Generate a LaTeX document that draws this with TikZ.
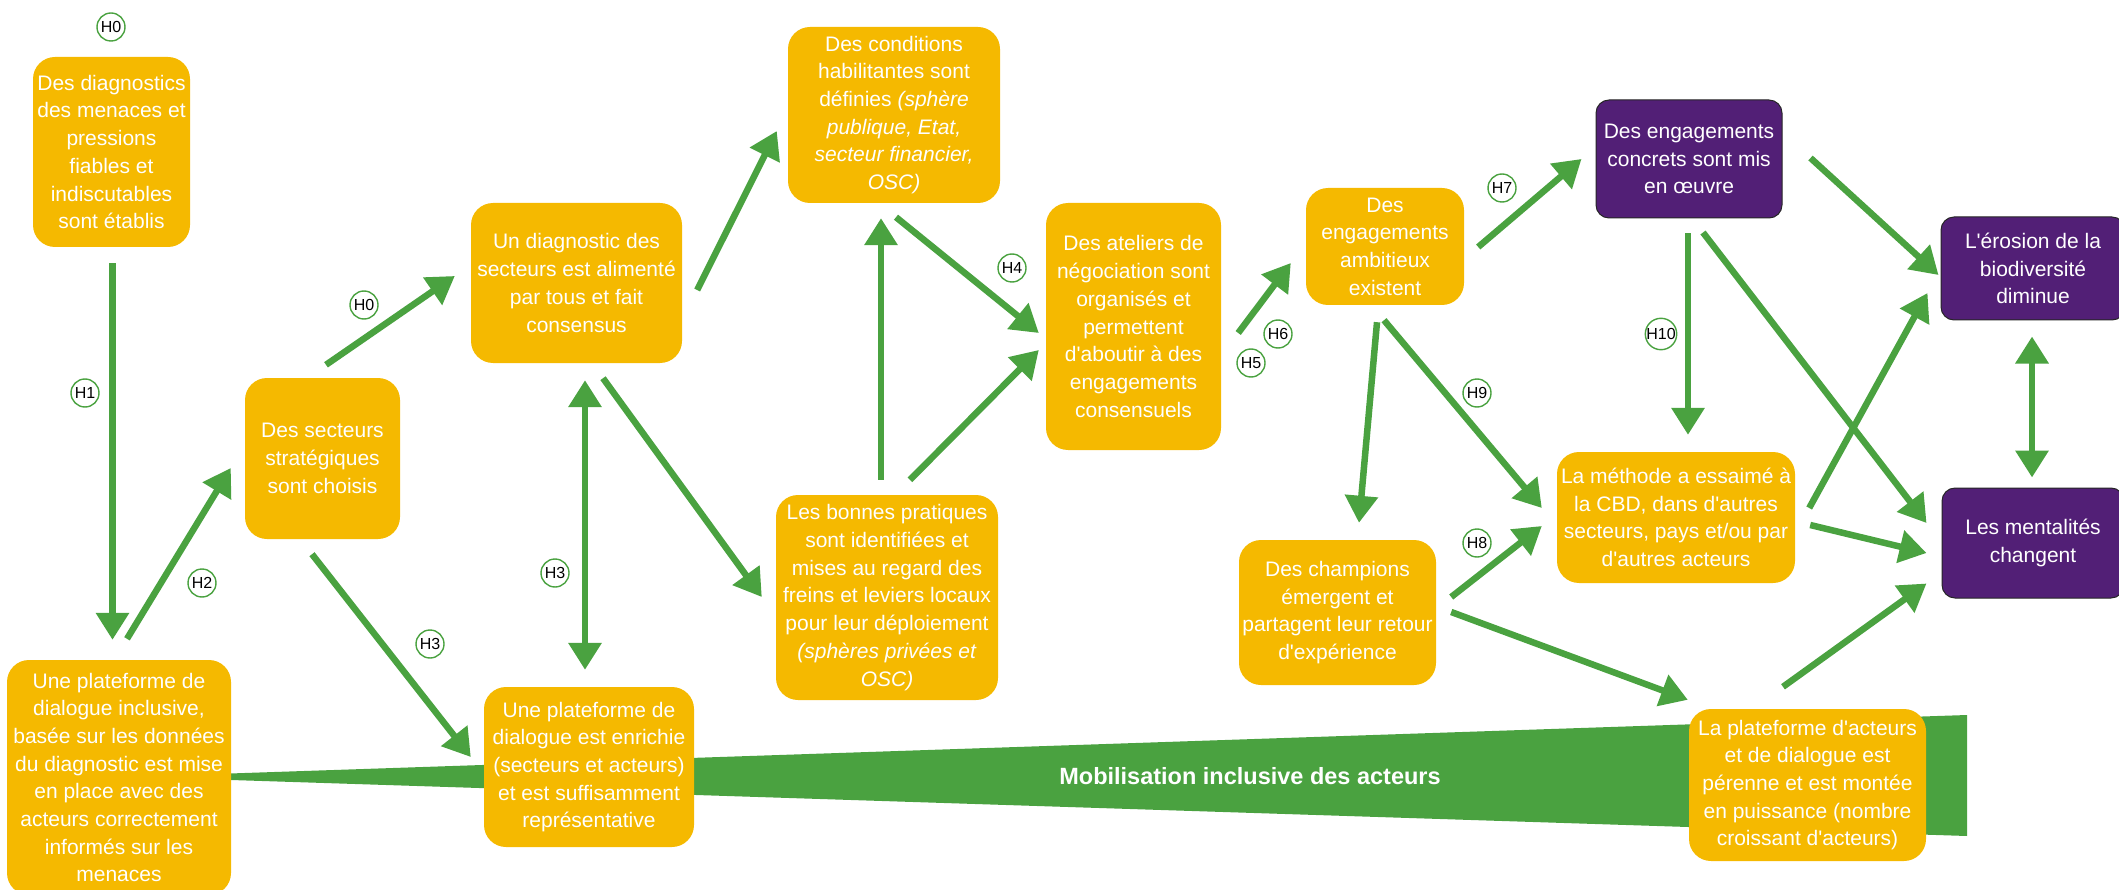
\documentclass[tikz,border=0pt]{standalone}
\usepackage{fontspec}
\setmainfont{Liberation Sans}
\usepackage{tikz}
\usetikzlibrary{arrows.meta, calc, backgrounds}
\definecolor{jauneb}{RGB}{245,185,0}
\definecolor{violetb}{RGB}{82,31,118}
\definecolor{vertb}{RGB}{74,162,64}
\newcommand{\ap}{\textquotesingle}
\tikzset{
  etape/.style  ={rounded corners=22pt, fill=jauneb, text=white, align=center, inner sep=3pt, font=\fontsize{21}{27.7}\selectfont},
  impact/.style ={rounded corners=13pt, fill=violetb, draw=black!85, line width=1pt, text=white, align=center, inner sep=3pt, font=\fontsize{21}{27.7}\selectfont},
  hyp/.style    ={circle, draw=vertb, fill=white, line width=1.4pt, minimum size=28pt, inner sep=0pt, font=\fontsize{16}{16}\selectfont, text=black},
  arr/.style    ={-{Triangle[length=27pt,width=32pt]}, line width=6.5pt, vertb},   % lien causal
  darr/.style   ={{Triangle[length=27pt,width=32pt]}-{Triangle[length=27pt,width=32pt]}, line width=6.5pt, vertb},
  mobil/.style  ={text=white, font=\bfseries\fontsize{23.5}{28}\selectfont},
}

\begin{document}
\begin{tikzpicture}[x=1pt, y=1pt]
  \useasboundingbox (0,0) rectangle (2119,-890);

  % bande de mobilisation
  \fill[vertb] (200,-774.5) -- (1967,-715) -- (1967,-836) -- (200,-779) -- cycle;
  \node[mobil] (mobtxt) at (1250,-776) {Mobilisation inclusive des acteurs};

  % etapes
  \node[etape, minimum width=157pt, minimum height=190pt] (diag) at (111.5,-152)
    {Des diagnostics\\ des menaces et\\ pressions\\ fiables et\\ indiscutables\\ sont établis};
  \node[etape, minimum width=211pt, minimum height=160pt] (diagsect) at (576.5,-283)
    {Un diagnostic des\\ secteurs est alimenté\\ par tous et fait\\ consensus};
  \node[etape, minimum width=155pt, minimum height=161pt] (secteurs) at (322.5,-458.5)
    {Des secteurs\\ stratégiques\\ sont choisis};
  \node[etape, minimum width=224pt, minimum height=235pt] (plateforme) at (119,-777.5)
    {Une plateforme de\\ dialogue inclusive,\\ basée sur les données\\ du diagnostic est mise\\ en place avec des\\ acteurs correctement\\ informés sur les\\ menaces};
  \node[etape, minimum width=210pt, minimum height=160pt] (enrichie) at (589,-767)
    {Une plateforme de\\ dialogue est enrichie\\ (secteurs et acteurs)\\ et est suffisamment\\ représentative};
  \node[etape, minimum width=212pt, minimum height=176pt] (conditions) at (894,-115)
    {Des conditions\\ habilitantes sont\\ définies \textit{(sphère}\\ \textit{publique, Etat,}\\ \textit{secteur financier,}\\ \textit{OSC)}};
  \node[etape, minimum width=175pt, minimum height=247pt] (ateliers) at (1133.5,-326.5)
    {Des ateliers de\\ négociation sont\\ organisés et\\ permettent\\ d\ap aboutir à des\\ engagements\\ consensuels};
  \node[etape, minimum width=222pt, minimum height=205pt] (pratiques) at (887,-597.5)
    {Les bonnes pratiques\\ sont identifiées et\\ mises au regard des\\ freins et leviers locaux\\ pour leur déploiement\\ \textit{(sphères privées et}\\ \textit{OSC)}};
  \node[etape, minimum width=158pt, minimum height=117pt] (ambitieux) at (1385,-246.5)
    {Des\\ engagements\\ ambitieux\\ existent};
  \node[etape, minimum width=197pt, minimum height=145pt] (champions) at (1337.5,-612.5)
    {Des champions\\ émergent et\\ partagent leur retour\\ d\ap expérience};
  \node[etape, minimum width=238pt, minimum height=131pt] (methode) at (1676,-517.5)
    {La méthode a essaimé à\\ la CBD, dans d\ap autres\\ secteurs, pays et/ou par\\ d\ap autres acteurs};
  \node[etape, minimum width=237pt, minimum height=152pt] (perenne) at (1807.5,-785)
    {La plateforme d\ap acteurs\\ et de dialogue est\\ pérenne et est montée\\ en puissance (nombre\\ croissant d\ap acteurs)};

  % impacts
  \node[impact, minimum width=186pt, minimum height=118pt] (concrets) at (1689,-159)
    {Des engagements\\ concrets sont mis\\ en œuvre};
  \node[impact, minimum width=184pt, minimum height=103pt] (erosion) at (2033,-268.5)
    {L\ap érosion de la\\ biodiversité\\ diminue};
  \node[impact, minimum width=182pt, minimum height=110pt] (mentalites) at (2033,-543)
    {Les mentalités\\ changent};

  % liens
  \draw[arr] ([shift={(1,-16)}]diag.south) -- ([shift={(-6.5,20)}]plateforme.north);
  \draw[arr] ([shift={(8,21)}]plateforme.north) -- ([shift={(-14,-9.5)}]secteurs.west);
  \draw[arr] ([shift={(3.5,13)}]secteurs.north) -- ([shift={(-16,7)}]diagsect.west);
  \draw[arr] ([shift={(-10.5,-15)}]secteurs.south) -- ([shift={(-13,10)}]enrichie.west);
  \draw[darr] ([shift={(8.5,-17)}]diagsect.south) -- ([shift={(-4,17)}]enrichie.north);
  \draw[arr] ([shift={(15,-7)}]diagsect.east) -- ([shift={(-11,-16)}]conditions.west);
  \draw[arr] ([shift={(26.5,-15)}]diagsect.south) -- ([shift={(-14,0.5)}]pratiques.west);
  \draw[arr] ([shift={(2,-14)}]conditions.south) -- ([shift={(-7,-6.5)}]ateliers.west);
  \draw[arr] ([shift={(-6,15)}]pratiques.north) -- ([shift={(-13,-15)}]conditions.south);
  \draw[arr] ([shift={(23,15)}]pratiques.north) -- ([shift={(-7,-23.5)}]ateliers.west);
  \draw[arr] ([shift={(17,-6.5)}]ateliers.east) -- ([shift={(-15,-16.5)}]ambitieux.west);
  \draw[arr] ([shift={(14,-0.5)}]ambitieux.east) -- ([shift={(-14,0)}]concrets.west);
  \draw[arr] ([shift={(-8,-17)}]ambitieux.south) -- ([shift={(21.5,17)}]champions.north);
  \draw[arr] ([shift={(-1,-15)}]ambitieux.south) -- ([shift={(-15,9.5)}]methode.west);
  \draw[arr] ([shift={(-1,-15)}]concrets.south) -- ([shift={(12,17)}]methode.north);
  \draw[arr] ([shift={(28,1)}]concrets.east) -- ([shift={(-2,-6.5)}]erosion.west);
  \draw[arr] ([shift={(14,-14)}]concrets.south) -- ([shift={(-15,20)}]mentalites.west);
  \draw[arr] ([shift={(14,9.5)}]methode.east) -- ([shift={(-13,-24.5)}]erosion.west);
  \draw[arr] ([shift={(15,-7.5)}]methode.east) -- ([shift={(-15,-10)}]mentalites.west);
  \draw[arr] ([shift={(15,15.5)}]champions.east) -- ([shift={(-15,-8.5)}]methode.west);
  \draw[arr] ([shift={(15,0.5)}]champions.east) -- ([shift={(-1,9)}]perenne.north west);
  \draw[arr] ([shift={(-24.5,22)}]perenne.north) -- ([shift={(-15,15)}]mentalites.south west);
  \draw[darr] ([shift={(-1,-16)}]erosion.south) -- ([shift={(-1,10)}]mentalites.north);

  % hypotheses
  \node[hyp] (h0a) at (111,-27) {H0};
  \node[hyp] (h1) at (85,-393) {H1};
  \node[hyp] (h0b) at (364,-305) {H0};
  \node[hyp] (h2) at (202,-583) {H2};
  \node[hyp] (h3a) at (430,-644) {H3};
  \node[hyp] (h3b) at (555,-573) {H3};
  \node[hyp] (h4) at (1012,-268) {H4};
  \node[hyp] (h5) at (1251,-363) {H5};
  \node[hyp] (h6) at (1278,-334) {H6};
  \node[hyp] (h7) at (1502,-188) {H7};
  \node[hyp] (h8) at (1477,-543) {H8};
  \node[hyp] (h9) at (1477,-393) {H9};
  \node[hyp] (h10) at (1661,-334) {H10};
\end{tikzpicture}
\end{document}
